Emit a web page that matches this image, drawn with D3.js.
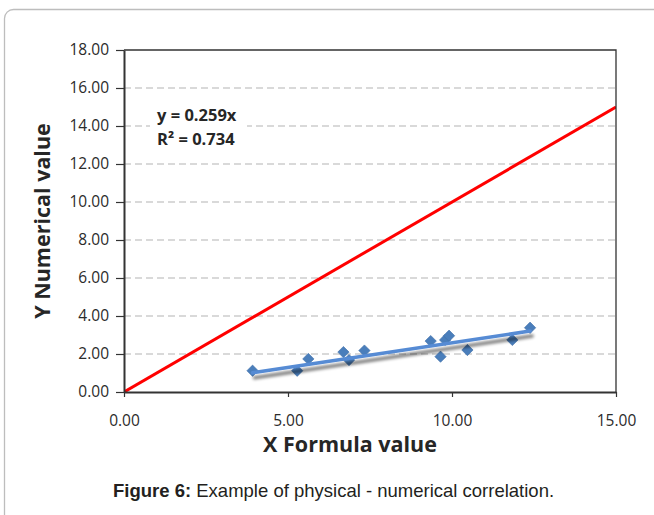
<!DOCTYPE html>
<html>
<head>
<meta charset="utf-8">
<script src="https://cdn.jsdelivr.net/npm/d3@7/dist/d3.min.js"></script>
<style>
  html, body { margin: 0; padding: 0; background: #fff; }
  svg { display: block; }
</style>
</head>
<body>
<svg id="chart" width="654" height="515"></svg>
<script>
// Measured (formula) vs computed (numerical) values
const xFormula   = [3.92, 5.28, 5.62, 6.69, 6.86, 7.33, 9.35, 9.65, 9.79, 9.91, 10.47, 11.84, 12.38];
const yNumerical = [1.12, 1.12, 1.74, 2.10, 1.68, 2.18, 2.68, 1.86, 2.74, 2.96, 2.21, 2.74, 3.38];

// Linear fit through the origin and its goodness of fit
const slope = 0.259;
const rSquared = 0.734;

// Axis ticks
const xTicks = [0, 5, 10, 15];
const yTicks = [0, 2, 4, 6, 8, 10, 12, 14, 16, 18];

// Identity reference line y = x
const identityLine = [[0, 0], [15, 15]];

const svg = d3.select("#chart");
const margin = { left: 124, right: 38, top: 50, bottom: 123 };
const W = 654, H = 515;
const plotW = W - margin.left - margin.right;
const plotH = H - margin.top - margin.bottom;

const x = d3.scaleLinear().domain([0, 15]).range([margin.left, margin.left + plotW]);
const y = d3.scaleLinear().domain([0, 18]).range([margin.top + plotH, margin.top]);

const defs = svg.append("defs");
defs.append("clipPath").attr("id", "plotClip")
  .append("rect")
  .attr("x", margin.left).attr("y", margin.top)
  .attr("width", plotW).attr("height", plotH);

const shadow = defs.append("filter").attr("id", "trendShadow")
  .attr("x", "-10%").attr("y", "-100%").attr("width", "120%").attr("height", "400%");
shadow.append("feGaussianBlur").attr("in", "SourceAlpha").attr("stdDeviation", 1.8).attr("result", "blur");
shadow.append("feOffset").attr("in", "blur").attr("dx", 2).attr("dy", 4.5).attr("result", "off");
shadow.append("feComponentTransfer").attr("in", "off").attr("result", "soft")
  .append("feFuncA").attr("type", "linear").attr("slope", 0.5);
const merge = shadow.append("feMerge");
merge.append("feMergeNode").attr("in", "soft");
merge.append("feMergeNode").attr("in", "SourceGraphic");

// Outer frame
svg.append("rect")
  .attr("x", 4.5).attr("y", 9.5)
  .attr("width", 720).attr("height", 600)
  .attr("rx", 9).attr("ry", 9)
  .attr("fill", "none")
  .attr("stroke", "#bdbdbd")
  .attr("stroke-width", 1.3);

// Dashed horizontal gridlines
svg.append("g")
  .selectAll("line")
  .data(yTicks.filter(d => d > 0 && d < 18))
  .join("line")
  .attr("x1", margin.left).attr("x2", margin.left + plotW)
  .attr("y1", d => y(d)).attr("y2", d => y(d))
  .attr("stroke", "#b4b4b4")
  .attr("stroke-width", 1.2)
  .attr("stroke-dasharray", "7,4");

const plot = svg.append("g").attr("clip-path", "url(#plotClip)");

// y = x reference line
plot.append("path")
  .datum(identityLine)
  .attr("d", d3.line().x(d => x(d[0])).y(d => y(d[1])))
  .attr("fill", "none")
  .attr("stroke", "#ff0000")
  .attr("stroke-width", 3);

// Data points as diamonds
const points = xFormula.map((v, i) => ({ x: v, y: yNumerical[i] }));
plot.append("g")
  .selectAll("path")
  .data(points)
  .join("path")
  .attr("transform", d => `translate(${x(d.x)},${y(d.y)})`)
  .attr("d", d3.symbol().type(d3.symbolDiamond2).size(82))
  .attr("fill", "#4a7ebb")
  .attr("stroke", "#3f6fa8")
  .attr("stroke-width", 0.6);

// Trendline over the range of the data
const xMin = d3.min(xFormula), xMax = d3.max(xFormula);
plot.append("path")
  .datum([xMin, xMax])
  .attr("d", d3.line().x(d => x(d)).y(d => y(slope * d)))
  .attr("fill", "none")
  .attr("stroke", "#568bd4")
  .attr("stroke-width", 3.6)
  .attr("stroke-linecap", "round")
  .attr("filter", "url(#trendShadow)");

// Plot box (top and right edges)
svg.append("path")
  .attr("d", `M${margin.left},${margin.top}H${margin.left + plotW}V${margin.top + plotH}`)
  .attr("fill", "none")
  .attr("stroke", "#333")
  .attr("stroke-width", 1.3);

// Axes
const tickFont = "'Open Sans', Lato, sans-serif";
const yAxis = svg.append("g")
  .attr("transform", `translate(${margin.left},0)`)
  .call(d3.axisLeft(y).tickValues(yTicks).tickFormat(d3.format(".2f")).tickSize(8).tickSizeOuter(0).tickPadding(7));
const xAxis = svg.append("g")
  .attr("transform", `translate(0,${margin.top + plotH})`)
  .call(d3.axisBottom(x).tickValues(xTicks).tickFormat(d3.format(".2f")).tickSize(5).tickSizeOuter(0).tickPadding(18));

[yAxis, xAxis].forEach(g => {
  g.select(".domain").attr("stroke", "#333").attr("stroke-width", 2);
  g.selectAll(".tick line").attr("stroke", "#333").attr("stroke-width", 1.2);
  g.selectAll(".tick text")
    .attr("fill", "#2b2b2b")
    .style("font-family", tickFont)
    .style("font-size", "15.5px");
});

// Axis titles
svg.append("text")
  .attr("x", 350).attr("y", 452)
  .attr("text-anchor", "middle")
  .style("font-family", "'Open Sans', Lato, sans-serif")
  .style("font-weight", "bold")
  .style("font-size", "21.5px")
  .attr("fill", "#262626")
  .text("X Formula value");

svg.append("text")
  .attr("transform", `translate(50,${margin.top + plotH / 2}) rotate(-90)`)
  .attr("text-anchor", "middle")
  .style("font-family", "'Open Sans', Lato, sans-serif")
  .style("font-weight", "bold")
  .style("font-size", "21.5px")
  .attr("fill", "#262626")
  .text("Y Numerical value");

// Trendline equation label
const eq = svg.append("g").attr("transform", "translate(157,0)");
eq.append("rect")
  .attr("x", -7).attr("y", 104).attr("width", 97).attr("height", 46)
  .attr("fill", "#fff");
eq.append("text")
  .attr("x", 0).attr("y", 121)
  .style("font-family", "'Open Sans', Lato, sans-serif")
  .style("font-weight", "bold")
  .style("font-size", "16.5px")
  .attr("fill", "#262626")
  .text(`y = ${slope}x`);
eq.append("text")
  .attr("x", 0).attr("y", 145)
  .style("font-family", "'Open Sans', Lato, sans-serif")
  .style("font-weight", "bold")
  .style("font-size", "16.5px")
  .attr("fill", "#262626")
  .text(`R² = ${rSquared}`);

// Caption
const cap = svg.append("text")
  .attr("x", 113).attr("y", 497)
  .style("font-family", "'Liberation Sans', Arial, sans-serif")
  .style("font-size", "18.5px")
  .attr("fill", "#231f20");
cap.append("tspan").style("font-weight", "bold").text("Figure 6:");
cap.append("tspan").text(" Example of physical - numerical correlation.");
</script>
</body>
</html>
